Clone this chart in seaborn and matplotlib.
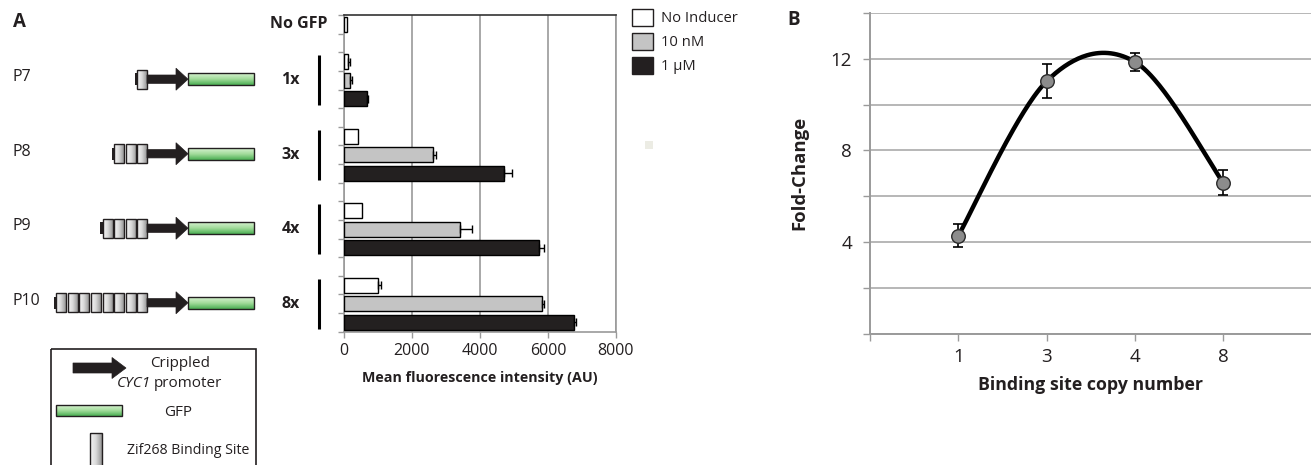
import numpy as np
import pandas as pd
import matplotlib
matplotlib.use("Agg")
import matplotlib.pyplot as plt
import seaborn as sns
from matplotlib.patches import Rectangle, Polygon, Patch
from matplotlib.colors import LinearSegmentedColormap
from matplotlib.transforms import blended_transform_factory

# ---------------- data ----------------
construct_names = ["P7", "P8", "P9", "P10"]
site_copies = [1, 3, 4, 8]
group_labels = ["1x", "3x", "4x", "8x"]
conditions = ["No Inducer", "10 nM", "1 µM"]
no_gfp_label = "No GFP"
no_gfp_mfi = 80
mfi_no_inducer = [130, 400, 520, 1010]
mfi_10nM = [180, 2620, 3400, 5830]
mfi_1uM = [670, 4700, 5745, 6755]
err_no_inducer = [40, 0, 0, 80]
err_10nM = [50, 80, 350, 50]
err_1uM = [50, 250, 150, 70]
mfi_ticks = [0, 2000, 4000, 6000, 8000]

copy_number_labels = ["1", "3", "4", "8"]
fold_change = [4.28, 11.02, 11.87, 6.59]
fold_change_err = [0.5, 0.75, 0.4, 0.55]
fold_labelled_ticks = [4, 8, 12]

# ---------------- style ----------------
sns.set_theme(style="white")
plt.rcParams["font.family"] = ["Open Sans", "DejaVu Sans"]
W, H = 1311, 465
fig = plt.figure(figsize=(W / 100, H / 100), dpi=100)

bar_colors = dict(zip(conditions, ["white", "#c4c4c4", "#231f20"]))
GRID = "#9a9a9a"
TXT = "#231f20"

# ---------------- panel A bar chart ----------------
slot_order = [no_gfp_label, "gap0"]
rows = [(no_gfp_label, no_gfp_mfi, 0, conditions[0])]
series = [mfi_no_inducer, mfi_10nM, mfi_1uM]
errs = [err_no_inducer, err_10nM, err_1uM]
group_slots = []
for g, lab in enumerate(group_labels):
    idx = []
    for c, cond in enumerate(conditions):
        name = f"{lab} {cond}"
        slot_order.append(name)
        idx.append(len(slot_order) - 1)
        rows.append((name, series[c][g], errs[c][g], cond))
    group_slots.append(idx)
    if g < len(group_labels) - 1:
        slot_order.append(f"gap{g + 1}")
df = pd.DataFrame(rows, columns=["slot", "mfi", "err", "condition"])

axA = fig.add_axes([344 / W, 1 - 331.7 / H, 272 / W, 316.7 / H])
sns.barplot(data=df, x="mfi", y="slot", hue="condition", order=slot_order,
            hue_order=conditions, palette=bar_colors, dodge=False, width=0.8,
            edgecolor="black", linewidth=1.0, orient="h", legend=False,
            errorbar=None, ax=axA, zorder=3)
pos = np.array([slot_order.index(s) for s in df["slot"]])
m = df["err"].values > 0
axA.errorbar(df["mfi"].values[m], pos[m],
             xerr=[np.zeros(m.sum()), df["err"].values[m]],
             fmt="none", ecolor="black", elinewidth=1.0, capsize=2.6,
             capthick=1.0, zorder=4)
axA.set_xlim(0, 8000)
axA.set_ylim(len(slot_order) - 0.5, -0.5)
axA.set_xticks(mfi_ticks)
axA.set_xticklabels([str(t) for t in mfi_ticks])
axA.set_yticks(np.arange(-0.5, len(slot_order), 1.0))
axA.set_yticklabels([])
axA.set_ylabel("")
axA.set_xlabel("Mean fluorescence intensity (AU)", fontsize=10.3,
               fontweight="bold", color=TXT)
axA.xaxis.set_label_coords(0.5, -0.125)
axA.grid(axis="x", color=GRID, lw=1.2, zorder=0)
axA.set_axisbelow(True)
axA.tick_params(axis="x", length=4, width=1, color=GRID, labelsize=11.5,
                pad=4, labelcolor=TXT, direction="out", bottom=True)
axA.tick_params(axis="y", length=4, width=1, color=GRID, left=True,
                direction="out")
for s in ["left", "bottom", "right"]:
    axA.spines[s].set_color(GRID)
    axA.spines[s].set_linewidth(1.2)
axA.spines["top"].set_color("#333333")
axA.spines["top"].set_linewidth(1.2)

# group labels and bracket lines on panel A
bt = blended_transform_factory(axA.transAxes, axA.transData)
axA.text(-0.062, 0, no_gfp_label, transform=bt, ha="right", va="center",
         fontsize=11.5, fontweight="bold", color=TXT)
for g, lab in enumerate(group_labels):
    s0, s1, s2 = group_slots[g]
    axA.text(-0.162, s1, lab, transform=bt, ha="right", va="center",
             fontsize=11.5, fontweight="bold", color=TXT)
    axA.plot([-0.092, -0.092], [s0 - 0.35, s2 + 0.35], transform=bt,
             color="black", lw=2.2, clip_on=False, solid_capstyle="butt")

# legend for bars
handles = [Patch(facecolor=bar_colors[c], edgecolor=TXT, lw=1.0)
           for c in conditions]
fig.legend(handles, conditions, loc="upper left",
           bbox_to_anchor=(632 / W, 1 - 9 / H), frameon=False,
           handlelength=1.4, handleheight=1.4, handletextpad=0.55,
           labelspacing=0.45, fontsize=10.6, borderaxespad=0, borderpad=0,
           labelcolor=TXT)

# ---------------- panel B line chart ----------------
axB = fig.add_axes([870 / W, 1 - 333.8 / H, 441.5 / W, 320.8 / H])
xpos = np.arange(1, len(fold_change) + 1)
fc = np.array(fold_change)

# smoothed (Catmull-Rom) line through the data, like a spreadsheet smooth line
P = np.column_stack([xpos, fc]).astype(float)
ext = np.vstack([P[0], P, P[-1]])
curve = []
for i in range(len(P) - 1):
    p0, p1, p2, p3 = ext[i], ext[i + 1], ext[i + 2], ext[i + 3]
    m1 = (p2 - p0) / 2.0
    m2 = (p3 - p1) / 2.0
    t = np.linspace(0, 1, 60)[:, None]
    h00 = 2 * t**3 - 3 * t**2 + 1
    h10 = t**3 - 2 * t**2 + t
    h01 = -2 * t**3 + 3 * t**2
    h11 = t**3 - t**2
    curve.append(h00 * p1 + h10 * m1 + h01 * p2 + h11 * m2)
curve = np.vstack(curve)
axB.plot(curve[:, 0], curve[:, 1], color="black", lw=3.2, zorder=3,
         solid_capstyle="round")
axB.errorbar(xpos, fc, yerr=fold_change_err, fmt="none", ecolor="black",
             elinewidth=1.2, capsize=3.8, capthick=1.2, zorder=4)
sns.scatterplot(x=xpos, y=fc, s=95, color="#8c8c8c", edgecolor="#2a2a2a",
                linewidth=1.0, zorder=5, ax=axB, legend=False)
axB.set_xlim(0, len(fold_change) + 1)
axB.set_ylim(0, 14)
axB.set_xticks(np.arange(0, len(fold_change) + 1))
axB.set_xticklabels([""] + copy_number_labels)
yt = np.arange(0, 15, 2)
axB.set_yticks(yt)
axB.set_yticklabels([str(v) if v in fold_labelled_ticks else "" for v in yt])
axB.grid(axis="y", color="#aaaaaa", lw=1.2, zorder=0)
axB.grid(axis="x", visible=False)
axB.set_axisbelow(True)
axB.tick_params(axis="both", length=5, width=1, color=GRID, labelsize=13.5,
                labelcolor=TXT, direction="out", left=True, bottom=True)
axB.tick_params(axis="y", pad=8)
axB.tick_params(axis="x", pad=5)
for s in ["left", "bottom"]:
    axB.spines[s].set_color(GRID)
    axB.spines[s].set_linewidth(1.4)
for s in ["top", "right"]:
    axB.spines[s].set_visible(False)
axB.set_xlabel("Binding site copy number", fontsize=12.8, fontweight="bold",
               color=TXT)
axB.xaxis.set_label_coords(0.5, -0.13)
axB.set_ylabel("Fold-Change", fontsize=13.3, fontweight="bold", color=TXT)
axB.yaxis.set_label_coords(-0.14, 0.5)

# ---------------- overlay: panel letters and construct diagrams ----------------
ov = fig.add_axes([0, 0, 1, 1], facecolor="none")
ov.set_zorder(10)

green = LinearSegmentedColormap.from_list("gfp", ["#d8f3d2", "#a2dc9b", "#4aae52"])
site = LinearSegmentedColormap.from_list("site", ["#f5f5f5", "#d9d9d9", "#979797"])


def grad_rect(x0, y0, w, h, cmap, horizontal, lw=1.0):
    g = np.linspace(0, 1, 64)
    img = g[None, :] if horizontal else g[:, None]
    ov.imshow(img, cmap=cmap, extent=(x0, x0 + w, y0 + h, y0), aspect="auto",
              zorder=2, interpolation="bilinear")
    ov.add_patch(Rectangle((x0, y0), w, h, fill=False, edgecolor=TXT,
                           lw=lw, zorder=3))


def arrow(x0, x1, x2, yc, half_shaft, half_head):
    pts = [(x0, yc - half_shaft), (x1, yc - half_shaft), (x1, yc - half_head),
           (x2, yc), (x1, yc + half_head), (x1, yc + half_shaft),
           (x0, yc + half_shaft)]
    ov.add_patch(Polygon(pts, closed=True, facecolor=TXT,
                         edgecolor=TXT, lw=0.5, zorder=3))


fig.canvas.draw()
for i, (name, n) in enumerate(zip(construct_names, site_copies)):
    ypix = axA.transData.transform((0, group_slots[i][1]))[1]
    yc = H - ypix - 1
    ov.text(13, yc - 2, name, ha="left", va="center", fontsize=11.5,
            color=TXT)
    x_end = 148.0
    pitch = 11.6
    arrow(x_end - 1, 176, 188, yc, 4.2, 11)
    grad_rect(188, yc - 6, 66, 12, green, horizontal=False)
    for k in range(n):
        bx = x_end - (n - k) * pitch + 1
        grad_rect(bx, yc - 9.5, pitch - 1.6, 19, site, horizontal=True)
    first = x_end - n * pitch + 1
    ov.add_patch(Rectangle((first - 2.2, yc - 6), 2.2, 12, facecolor=TXT,
                           edgecolor="none", zorder=3))

# key box
ov.add_patch(Rectangle((50.7, 349), 205.5, 140, fill=False, edgecolor=TXT,
                       lw=1.2, zorder=3, clip_on=False))
arrow(73, 112, 126, 368, 5, 10.5)
ov.text(180, 363, "Crippled", ha="center", va="center", fontsize=11,
        color=TXT)
ov.text(151, 383, "CYC1", ha="right", va="center", fontsize=11,
        style="italic", color=TXT)
ov.text(154, 383, "promoter", ha="left", va="center", fontsize=11,
        color=TXT)
grad_rect(56, 405, 66, 11, green, horizontal=False)
ov.text(178, 412, "GFP", ha="center", va="center", fontsize=11,
        color=TXT)
grad_rect(89.5, 433, 12, 40, site, horizontal=True)
ov.text(127, 450, "Zif268 Binding Site", ha="left", va="center", fontsize=10.2,
        color=TXT)

# panel letters
ov.text(13, 22, "A", ha="left", va="center", fontsize=13.5, fontweight="bold",
        color=TXT)
ov.text(787, 20, "B", ha="left", va="center", fontsize=13.5, fontweight="bold",
        color=TXT)
# small grey speck in the original figure
ov.add_patch(Rectangle((645, 141), 8, 8, facecolor="#ecece4", edgecolor="none"))

ov.set_xlim(0, W)
ov.set_ylim(H, 0)
ov.axis("off")

fig.savefig("out.png", dpi=100)
